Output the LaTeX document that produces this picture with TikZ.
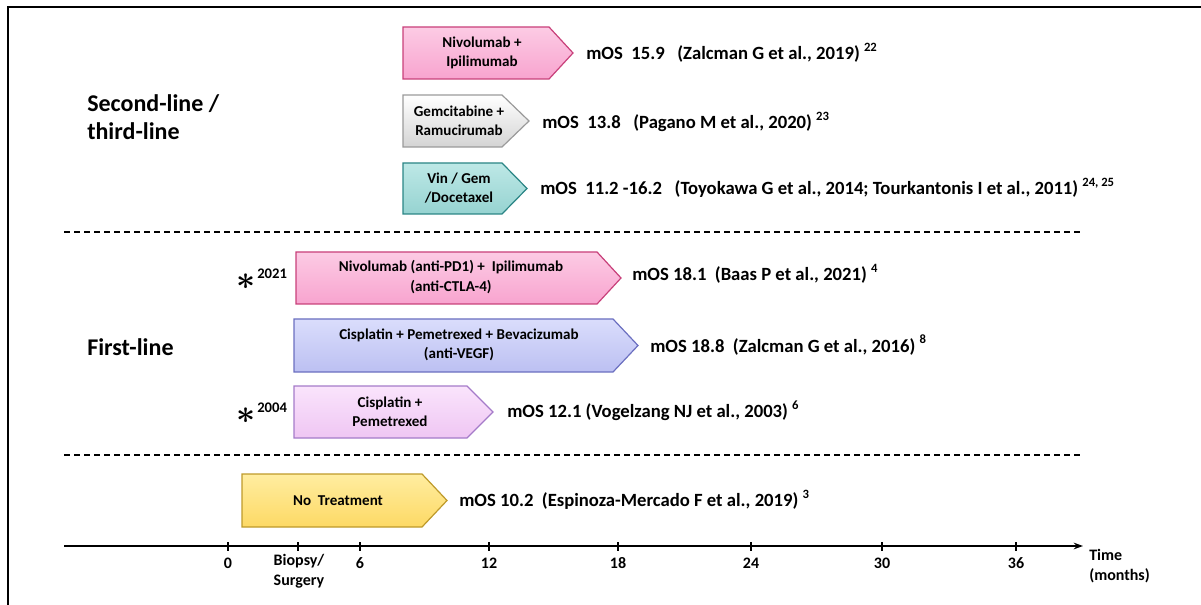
\documentclass[tikz,border=0pt]{standalone}
\usepackage{fontspec}
\usepackage{amsmath}
\setmainfont{Carlito}
\usetikzlibrary{arrows.meta}
\definecolor{pinkT}{HTML}{FCCBE4}
\definecolor{pinkF}{HTML}{F8A4CF}
\definecolor{pinkB}{HTML}{C8407A}
\definecolor{grayT}{HTML}{FFFFFF}
\definecolor{grayF}{HTML}{D4D4D4}
\definecolor{grayB}{HTML}{9A9A9A}
\definecolor{tealT}{HTML}{BDE8E6}
\definecolor{tealF}{HTML}{96D3D1}
\definecolor{tealB}{HTML}{2A8585}
\definecolor{lavT}{HTML}{DADDFC}
\definecolor{lavF}{HTML}{BCC0F2}
\definecolor{lavB}{HTML}{6B6FC0}
\definecolor{lilT}{HTML}{FAE4FC}
\definecolor{lilF}{HTML}{EFC6F3}
\definecolor{lilB}{HTML}{A57BC9}
\definecolor{yelT}{HTML}{FFEDA0}
\definecolor{yelF}{HTML}{FDD965}
\definecolor{yelB}{HTML}{BE9A2A}
\newcommand{\chevpath}[6]{% x1, xbody, xtip, ytop, ybot, style
  \path[#6] (#1,#4) -- (#2,#4) -- (#3,{(#4+#5)/2}) -- (#2,#5) -- (#1,#5) -- cycle;}
\newcommand{\sups}[1]{\raisebox{0.45em}{\fontsize{9.5}{10}\selectfont #1}}
\begin{document}
\begin{tikzpicture}[x=0.75pt,y=-0.75pt,
  chev/.style={line width=0.9pt},
  pinkbox/.style={chev, draw=pinkB, top color=pinkT, bottom color=pinkF},
  graybox/.style={chev, draw=grayB, top color=grayT, bottom color=grayF},
  tealbox/.style={chev, draw=tealB, top color=tealT, bottom color=tealF},
  lavbox/.style={chev, draw=lavB, top color=lavT, bottom color=lavF},
  lilbox/.style={chev, draw=lilB, top color=lilT, bottom color=lilF},
  yelbox/.style={chev, draw=yelB, top color=yelT, bottom color=yelF},
  boxtxt/.style={font=\fontsize{11.3}{14.5}\selectfont\bfseries, align=center, inner sep=0pt},
  mos/.style={font=\fontsize{14}{16}\selectfont\bfseries, anchor=west, inner sep=0pt},
  sect/.style={font=\fontsize{18}{21}\selectfont\bfseries, anchor=west, align=left, inner sep=0pt},
  ticklbl/.style={font=\fontsize{12}{15}\selectfont\bfseries, inner sep=0pt, align=left},
  dashline/.style={line width=0.9pt, dash pattern=on 4.5pt off 3pt},
  tickmark/.style={line width=1.4pt},
  star/.style={font=\fontsize{30}{30}\selectfont, inner sep=0pt},
  staryr/.style={font=\fontsize{11}{12}\selectfont\bfseries, anchor=west, inner sep=0pt}
]
\useasboundingbox (0,0) rectangle (1201,605);
% frame
\draw[line width=1.9pt] (8,605) -- (8,7) -- (1201,7);

% section labels
\node[sect] (sec2) at (87,117) {Second-line /\\third-line};
\node[sect] (sec1) at (87,347) {First-line};

% dashed separators
\coordinate (d1a) at (64,232); \coordinate (d1b) at (1083,232);
\coordinate (d2a) at (64,455); \coordinate (d2b) at (1083,455);
\draw[dashline] (d1a) -- (d1b);
\draw[dashline] (d2a) -- (d2b);

% second/third line boxes
\chevpath{403}{549}{573}{27}{79}{pinkbox}
\node[boxtxt] (b1) at (482,53) {Nivolumab +\\Ipilimumab};
\node[mos] (m1) at (586,53) {mOS\ \ 15.9\ \ \ (Zalcman G et al., 2019)\ \sups{22}};

\chevpath{403}{502}{529}{95}{147}{graybox}
\node[boxtxt] (b2) at (459,121) {Gemcitabine +\\Ramucirumab};
\node[mos] (m2) at (542,122) {mOS\ \ 13.8\ \ \ (Pagano M et al., 2020)\ \sups{23}};

\chevpath{403}{502}{527}{163}{214}{tealbox}
\node[boxtxt] (b3) at (459,188) {Vin / Gem\\/Docetaxel};
\node[mos] (m3) at (540,188) {mOS\ \ 11.2 -16.2\ \ \ (Toyokawa G et al., 2014; Tourkantonis I et al., 2011)\ \sups{24, 25}};

% first line boxes
\node[star] (s1) at (246,282) {$\boldsymbol{\ast}$};
\node[staryr] (y1) at (257,274) {2021};
\chevpath{296}{597}{621}{252}{304}{pinkbox}
\node[boxtxt] (b4) at (451,277) {Nivolumab (anti-PD1) +\ \ Ipilimumab\\(anti-CTLA-4)};
\node[mos] (m4) at (632,274) {mOS 18.1\ \ (Baas P et al., 2021)\ \sups{4}};

\chevpath{294}{613}{638}{319}{372}{lavbox}
\node[boxtxt] (b5) at (459,345) {Cisplatin + Pemetrexed + Bevacizumab\\(anti-VEGF)};
\node[mos] (m5) at (650,345) {mOS 18.8\ \ (Zalcman G et al., 2016)\ \sups{8}};

\node[star] (s2) at (246,416) {$\boldsymbol{\ast}$};
\node[staryr] (y2) at (257,408) {2004};
\chevpath{294}{467}{493}{386}{438}{lilbox}
\node[boxtxt] (b6) at (390,412) {Cisplatin +\\Pemetrexed};
\node[mos] (m6) at (507,411) {mOS 12.1 (Vogelzang NJ et al., 2003)\ \sups{6}};

% no treatment
\chevpath{242}{422}{447}{474}{527}{yelbox}
\node[boxtxt] (b7) at (338,501) {No\ \ Treatment};
\node[mos] (m7) at (459,500) {mOS 10.2\ \ (Espinoza-Mercado F et al., 2019)\ \sups{3}};

% axis
\coordinate (axL) at (64,546);
\coordinate (axR) at (1083,546);
\draw[line width=1.2pt, -{Stealth[length=7pt,width=5pt]}] (axL) -- (axR);
\foreach \xx/\lab/\nm in {228/0/t0, 360/6/t6, 489/12/t12, 618/18/t18, 751/24/t24, 882/30/t30, 1016/36/t36}{
  \draw[tickmark] (\xx,542) -- (\xx,551);
  \node[ticklbl] (\nm) at (\xx,563) {\lab};
}
\draw[tickmark] (298,542) -- (298,551);
\node[ticklbl, anchor=north] (bio) at (299,554) {Biopsy/\\Surgery};
\node[ticklbl, anchor=north west] (time) at (1089,549) {Time\\(months)};
\end{tikzpicture}
\end{document}
